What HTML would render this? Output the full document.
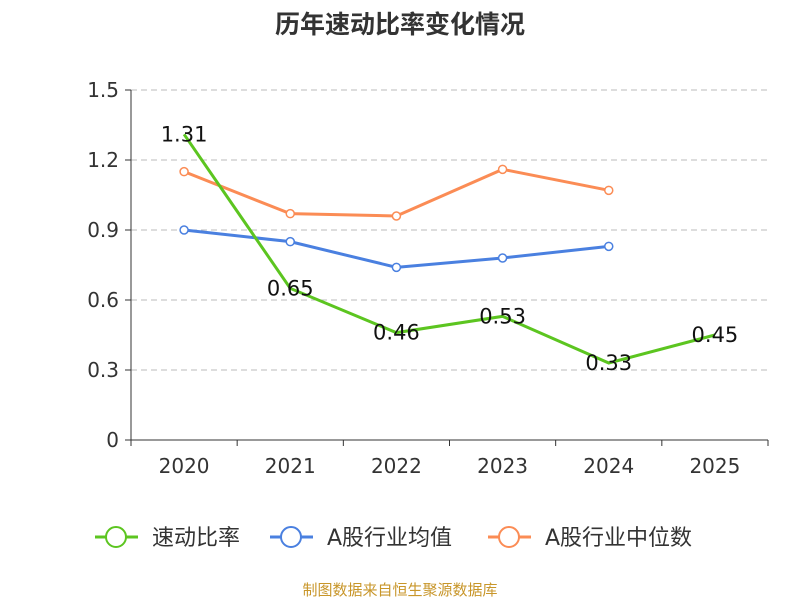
<!DOCTYPE html>
<html><head><meta charset="utf-8"><style>
body{margin:0;background:#fff;}
svg text{font-family:"DejaVu Sans","Noto Sans CJK SC",sans-serif;}
</style></head><body>
<svg width="800" height="600">
<text x="400" y="33" text-anchor="middle" font-size="25" font-weight="bold" fill="#333" style="font-family:'Noto Sans CJK SC',sans-serif">历年速动比率变化情况</text>
<g id="grid"></g>
<g id="axes"></g>
<g id="series"></g>
<g id="legend"></g>
<text x="400" y="595" text-anchor="middle" font-size="15" fill="#c8962a" style="font-family:'Noto Sans CJK SC',sans-serif">制图数据来自恒生聚源数据库</text>
</svg>
<script>
const categories=["2020","2021","2022","2023","2024","2025"];
const quickRatio=[1.31,0.65,0.46,0.53,0.33,0.45];
const industryAvg=[0.90,0.85,0.74,0.78,0.83];
const industryMedian=[1.15,0.97,0.96,1.16,1.07];
const yTicks=[0,0.3,0.6,0.9,1.2,1.5];
const yTickLabels=["0","0.3","0.6","0.9","1.2","1.5"];
const NS="http://www.w3.org/2000/svg";
const L=131,R=768,T=90,B=440,yMax=1.5;
const bw=(R-L)/categories.length;
const xs=i=>L+bw*(i+0.5);
const ys=v=>B-(v/yMax)*(B-T);
function mk(p,tag,a){const e=document.createElementNS(NS,tag);for(const k in a)e.setAttribute(k,a[k]);p.appendChild(e);return e;}
const grid=document.getElementById('grid'),axes=document.getElementById('axes'),series=document.getElementById('series'),legend=document.getElementById('legend');
yTicks.forEach((t,i)=>{
 if(t>0){const g=mk(grid,'line',{x1:L,x2:R,y1:ys(t),y2:ys(t),stroke:'#bbb','stroke-dasharray':'6,4'});
 
 }
 const tk=mk(axes,'line',{x1:L-6,x2:L,y1:ys(t),y2:ys(t),stroke:'#333'});
 
 
 const tx=mk(axes,'text',{x:L-12,y:ys(t)+7,'text-anchor':'end','font-size':20,fill:'#333'});tx.textContent=yTickLabels[i];
 
 
});
const ya=mk(axes,'line',{x1:L,x2:L,y1:T,y2:B,stroke:'#333'});


const xa=mk(axes,'line',{x1:L,x2:R,y1:B,y2:B,stroke:'#333'});


for(let i=0;i<=categories.length;i++){const tk=mk(axes,'line',{x1:L+bw*i,x2:L+bw*i,y1:B,y2:B+6,stroke:'#333'});
 
 }
categories.forEach((c,i)=>{const tx=mk(axes,'text',{x:xs(i),y:B+33,'text-anchor':'middle','font-size':20,fill:'#333'});tx.textContent=c;
 
 });
function drawLine(vals,color,name,markers,labels){
 const p=mk(series,'polyline',{points:vals.map((v,i)=>xs(i)+','+ys(v)).join(' '),fill:'none',stroke:color,'stroke-width':3});
 
 
 vals.forEach((v,i)=>{
  if(markers){const c=mk(series,'circle',{cx:xs(i),cy:ys(v),r:4,fill:'#fff',stroke:color,'stroke-width':1.5});
  
  }
  if(labels){const t=mk(series,'text',{x:xs(i),y:ys(v)+7,'text-anchor':'middle','font-size':21,fill:'#111'});t.textContent=v.toFixed(2);
  
  }
 });
}
drawLine(industryMedian,'#fb8c55','industry-median',true,false);
drawLine(industryAvg,'#4a80e0','industry-average',true,false);
drawLine(quickRatio,'#5cc520','quick-ratio',false,true);
[["速动比率","#5cc520",95],["A股行业均值","#4a80e0",270],["A股行业中位数","#fb8c55",488]].forEach(([t,c,x])=>{
 const g=mk(legend,'g',{});
 
 
 mk(g,'line',{x1:x,x2:x+43,y1:537,y2:537,stroke:c,'stroke-width':3});
 mk(g,'circle',{cx:x+21,cy:537,r:10,fill:'#fff',stroke:c,'stroke-width':2});
 const tx=mk(g,'text',{x:x+57,y:545,'font-size':22,fill:'#333'});tx.textContent=t;
});
</script>
</body></html>
